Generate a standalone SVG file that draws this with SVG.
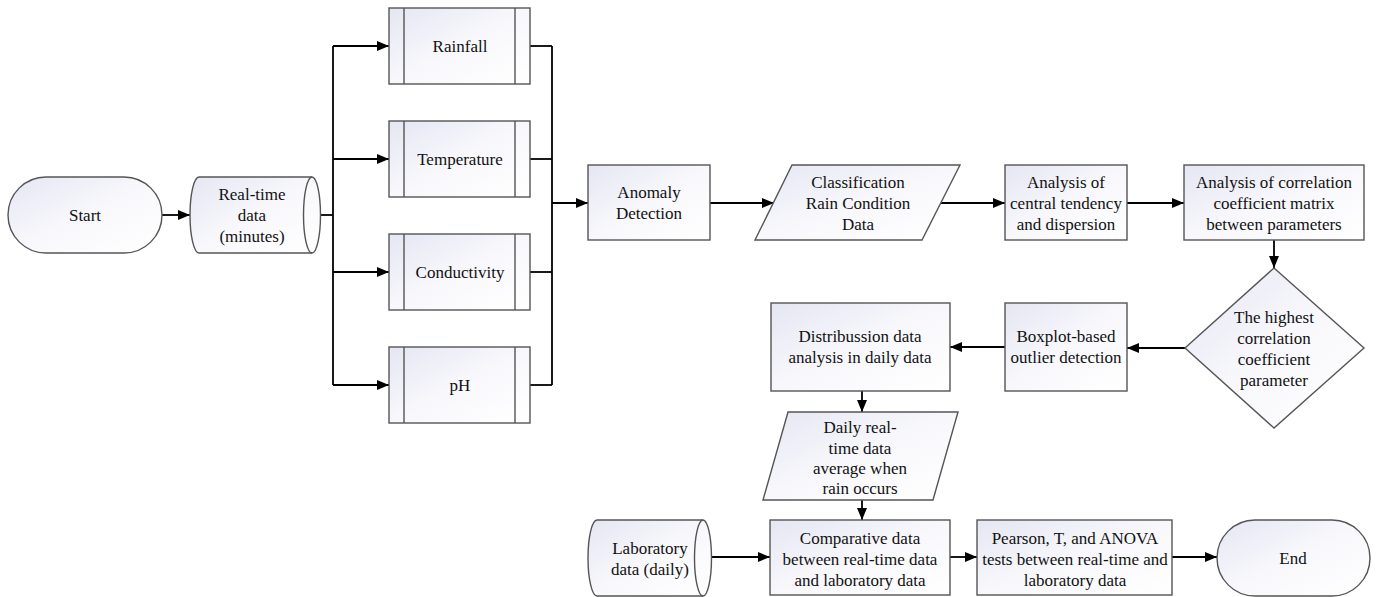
<svg xmlns="http://www.w3.org/2000/svg" width="1378" height="597" viewBox="0 0 1378 597">
<defs>
<linearGradient id="g" x1="0" y1="0" x2="1" y2="1">
<stop offset="0" stop-color="#e4e6f2"/>
<stop offset="0.5" stop-color="#f8f8fc"/>
<stop offset="1" stop-color="#ffffff"/>
</linearGradient>
<marker id="a" viewBox="0 0 12 10" refX="12" refY="5" markerWidth="12" markerHeight="10" markerUnits="userSpaceOnUse" orient="auto">
<path d="M0,0 L12,5 L0,10 Z" fill="#000"/>
</marker>
<style>
.s{fill:url(#g);stroke:#555555;stroke-width:1.4}
.l{fill:none;stroke:#555555;stroke-width:1.4}
.c{fill:none;stroke:#000;stroke-width:1.8}
.ca{fill:none;stroke:#000;stroke-width:1.8;marker-end:url(#a)}
text{font-family:'Liberation Serif','Times New Roman',serif;font-size:17px;fill:#111;text-anchor:middle;dominant-baseline:central}
</style>
</defs>

<g id="connectors">
<path class="ca" d="M162,215 H190"/>
<path class="c" d="M320,215 H333"/>
<path class="c" d="M333,46 V385"/>
<path class="ca" d="M333,46 H389"/>
<path class="ca" d="M333,159 H389"/>
<path class="ca" d="M333,272 H389"/>
<path class="ca" d="M333,385 H389"/>
<path class="c" d="M530,46 H552"/>
<path class="c" d="M530,159 H552"/>
<path class="c" d="M530,272 H552"/>
<path class="c" d="M530,385 H552"/>
<path class="c" d="M552,46 V385"/>
<path class="ca" d="M552,203 H588"/>
<path class="ca" d="M710,203 H774"/>
<path class="ca" d="M941,203 H1005"/>
<path class="ca" d="M1127,203 H1184"/>
<path class="ca" d="M1274,240 V268"/>
<path class="ca" d="M1185,348 H1127"/>
<path class="ca" d="M1005,347 H950"/>
<path class="ca" d="M862,391 V412"/>
<path class="ca" d="M862,500 V520"/>
<path class="ca" d="M712,557 H770"/>
<path class="ca" d="M950,557 H977"/>
<path class="ca" d="M1172,557 H1217"/>
</g>

<g id="start">
<rect class="s" x="8" y="177" width="154" height="76" rx="38" ry="38"/>
<text x="85" y="215">Start</text>
</g>

<g id="realtime">
<path class="s" d="M199,177 H312 A8.5,38 0 0 1 312,253 H199 A9,38 0 0 1 199,177 Z"/>
<path class="l" d="M312,177 A8.5,38 0 0 0 312,253"/>
<text x="252" y="194">Real-time</text>
<text x="252" y="215">data</text>
<text x="252" y="236">(minutes)</text>
</g>

<g id="rainfall">
<rect class="s" x="389" y="8" width="141" height="76"/>
<path class="l" d="M404,8 V84 M515,8 V84"/>
<text x="460" y="46">Rainfall</text>
</g>

<g id="temperature">
<rect class="s" x="389" y="121" width="141" height="76"/>
<path class="l" d="M404,121 V197 M515,121 V197"/>
<text x="460" y="159">Temperature</text>
</g>

<g id="conductivity">
<rect class="s" x="389" y="234" width="141" height="76"/>
<path class="l" d="M404,234 V310 M515,234 V310"/>
<text x="460" y="272">Conductivity</text>
</g>

<g id="ph">
<rect class="s" x="389" y="347" width="141" height="76"/>
<path class="l" d="M404,347 V423 M515,347 V423"/>
<text x="460" y="385">pH</text>
</g>

<g id="anomaly">
<rect class="s" x="588" y="165" width="122" height="75"/>
<text x="649" y="192">Anomaly</text>
<text x="649" y="213">Detection</text>
</g>

<g id="classification">
<path class="s" d="M792,165 H960 L922,240 H755 Z"/>
<text x="858" y="182">Classification</text>
<text x="858" y="203">Rain Condition</text>
<text x="858" y="224">Data</text>
</g>

<g id="central">
<rect class="s" x="1005" y="165" width="122" height="75"/>
<text x="1066" y="182">Analysis of</text>
<text x="1066" y="203">central tendency</text>
<text x="1066" y="224">and dispersion</text>
</g>

<g id="correlation">
<rect class="s" x="1184" y="165" width="180" height="75"/>
<text x="1274" y="182">Analysis of correlation</text>
<text x="1274" y="203">coefficient matrix</text>
<text x="1274" y="224">between parameters</text>
</g>

<g id="highest">
<path class="s" d="M1274,268 L1364,348 L1274,428 L1185,348 Z"/>
<text x="1274" y="317">The highest</text>
<text x="1274" y="338">correlation</text>
<text x="1274" y="359">coefficient</text>
<text x="1274" y="380">parameter</text>
</g>

<g id="boxplot">
<rect class="s" x="1005" y="303" width="122" height="88"/>
<text x="1066" y="336">Boxplot-based</text>
<text x="1066" y="357">outlier detection</text>
</g>

<g id="distribution">
<rect class="s" x="771" y="303" width="179" height="88"/>
<text x="860" y="336">Distribussion data</text>
<text x="860" y="357">analysis in daily data</text>
</g>

<g id="daily">
<path class="s" d="M788,412 H958 L933,500 H763 Z"/>
<text x="860" y="427">Daily real-</text>
<text x="860" y="448">time data</text>
<text x="860" y="468">average when</text>
<text x="860" y="488">rain occurs</text>
</g>

<g id="laboratory">
<path class="s" d="M597,520 H703 A8.5,38 0 0 1 703,596 H597 A9,38 0 0 1 597,520 Z"/>
<path class="l" d="M703,520 A8.5,38 0 0 0 703,596"/>
<text x="650" y="548">Laboratory</text>
<text x="650" y="569">data (daily)</text>
</g>

<g id="comparative">
<rect class="s" x="770" y="520" width="180" height="75"/>
<text x="860" y="538">Comparative data</text>
<text x="860" y="559">between real-time data</text>
<text x="860" y="580">and laboratory data</text>
</g>

<g id="pearson">
<rect class="s" x="977" y="520" width="195" height="75"/>
<text x="1075" y="538">Pearson, T, and ANOVA</text>
<text x="1075" y="559">tests between real-time and</text>
<text x="1075" y="580">laboratory data</text>
</g>

<g id="end">
<rect class="s" x="1217" y="520" width="153" height="76" rx="38" ry="38"/>
<text x="1293" y="558">End</text>
</g>
</svg>
